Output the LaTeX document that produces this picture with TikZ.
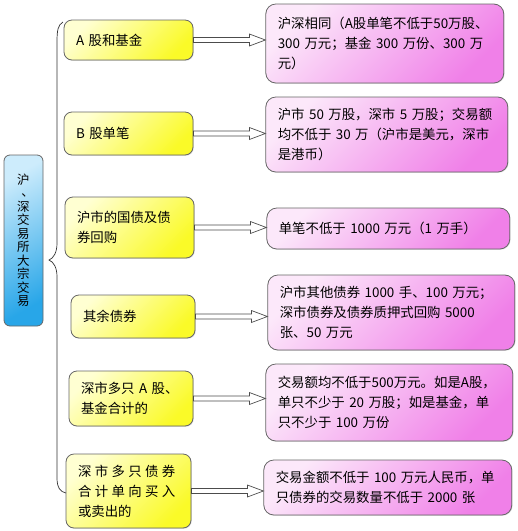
\documentclass[tikz,border=0pt]{standalone}
\usepackage{fontspec}
\setmainfont{Noto Sans CJK SC}[WordSpace=1.5]
\usetikzlibrary{positioning,calc,shadows}
\definecolor{condlight}{RGB}{255,255,210}
\definecolor{conddark}{RGB}{250,250,40}
\definecolor{rulelight}{RGB}{252,232,250}
\definecolor{ruledark}{RGB}{240,128,232}
\definecolor{rootlight}{RGB}{205,236,252}
\definecolor{rootdark}{RGB}{40,166,232}
\newcommand{\gap}{\hspace{3.4pt}}
\begin{document}
\begin{tikzpicture}[x=1pt, y=-1pt, node distance=72pt,
      cond/.style={
        % The shape:
        rectangle, rounded corners=8pt, draw=black!60, line width=0.8pt,
        drop shadow={shadow xshift=0.8pt, shadow yshift=-0.8pt, opacity=0.25},
        % The rest
        top color=condlight, bottom color=conddark, shading angle=45,
        align=left, inner xsep=12pt, inner ysep=2pt,
        font=\fontsize{13.4}{20}\selectfont},
      rule/.style={
        % The shape:
        rectangle, rounded corners=10pt, draw=black!60, line width=0.8pt,
        drop shadow={shadow xshift=0.8pt, shadow yshift=-0.8pt, opacity=0.25},
        % The rest
        top color=rulelight, bottom color=ruledark, shading angle=45,
        align=left, inner xsep=12pt, inner ysep=2pt,
        font=\fontsize{13.4}{20}\selectfont},
      root/.style={
        rectangle, rounded corners=6pt, draw=black!60, line width=0.8pt,
        top color=rootlight, bottom color=rootdark, shading angle=30,
        align=center, inner sep=0pt, minimum width=39pt, minimum height=171pt,
        text width=16pt, font=\fontsize{12.5}{13.5}\selectfont},
      hollow/.style={
        draw=black!70, fill=white, line width=0.7pt, line join=miter}]
    \useasboundingbox (0,0) rectangle (518,531);
    % the left root
    \node(trade)[root] at (23.5,240.5){沪\\\mbox{\kern4pt\raisebox{1.5pt}{、}\kern-4pt}\\深\\交\\易\\所\\大\\宗\\交\\易};
    % conditions
    \node(ab)[cond, text width=105pt, minimum height=40pt] at (128.5,40){A 股和基金};
    \node(b)[cond, text width=105pt, minimum height=43pt] at (128.5,133.5){B 股单笔};
    \node(gz)[cond, text width=105pt, minimum height=61pt] at (129.5,227.5){沪市的国债及债\\券回购};
    \node(bond)[cond, text width=100pt, minimum height=43pt] at (133,316.5){其余债券};
    \node(szab)[cond, text width=100pt, minimum height=55pt] at (131,398.5){深市多只 A 股、\\基金合计的};
    \node(szbond)[cond, text width=101pt, minimum height=74pt] at (128.5,491){深\gap 市\gap 多\gap 只\gap 债\gap 券\\合\gap 计\gap 单\gap 向\gap 买\gap 入\\或卖出的};
    % rules
    \node(rab)[rule, right=of ab, yshift=-3.5pt, text width=214pt, minimum height=79pt]{沪深相同（A股单笔不低于50万股、\\300 万元；基金 300 万份、300 万\\元）};
    \node(rb)[rule, right=of b, yshift=-1pt, text width=218pt, minimum height=75pt]{沪市 50 万股，深市 5 万股；交易额\\均不低于 30 万（沪市是美元，深市\\是港币）};
    \node(rgz)[rule, right=of gz, yshift=-1pt, text width=219pt, minimum height=41pt]{单笔不低于 1000 万元（1 万手）};
    \node(rbond)[rule, right=of bond, yshift=4pt, text width=223pt, minimum height=75pt]{沪市其他债券 1000 手、100 万元；\\深市债券及债券质押式回购 5000\\张、50 万元};
    \node(rszab)[rule, right=of szab, yshift=-4pt, text width=223pt, minimum height=77pt]{交易额均不低于500万元。如是A股，\\单只不少于 20 万股；如是基金，单\\只不少于 100 万份};
    \node(rszbond)[rule, right=of szbond, yshift=3.5pt, text width=224pt, minimum height=55pt]{交易金额不低于 100 万元人民币，单\\只债券的交易数量不低于 2000 张};
    % the brace
    \coordinate(bt) at (63,22);
    \coordinate(bm) at (49,260);
    \coordinate(bb) at (66,493);
    \draw[black!80, line width=0.7pt] (bt) .. controls (58,25) and (57,30) .. (57,42) -- (57,243)
      .. controls (57,252) and (54,258) .. (bm) .. controls (54,262) and (57,268) .. (57,277)
      -- (57,478) .. controls (57,487) and (60,492) .. (bb);
    % hollow arrows
    \foreach \c/\r in {ab/rab, b/rb, gz/rgz, bond/rbond, szab/rszab, szbond/rszbond}{
      \coordinate(\c tip) at (\c.east -| \r.west);
      \draw[hollow] ($(\c.east)+(0,-2.5)$) -- ($(\c tip)+(-16,-2.5)$) -- ($(\c tip)+(-16,-6)$)
        -- (\c tip) -- ($(\c tip)+(-16,6)$) -- ($(\c tip)+(-16,2.5)$) -- ($(\c.east)+(0,2.5)$) -- cycle;
    }
  \end{tikzpicture}
\end{document}
